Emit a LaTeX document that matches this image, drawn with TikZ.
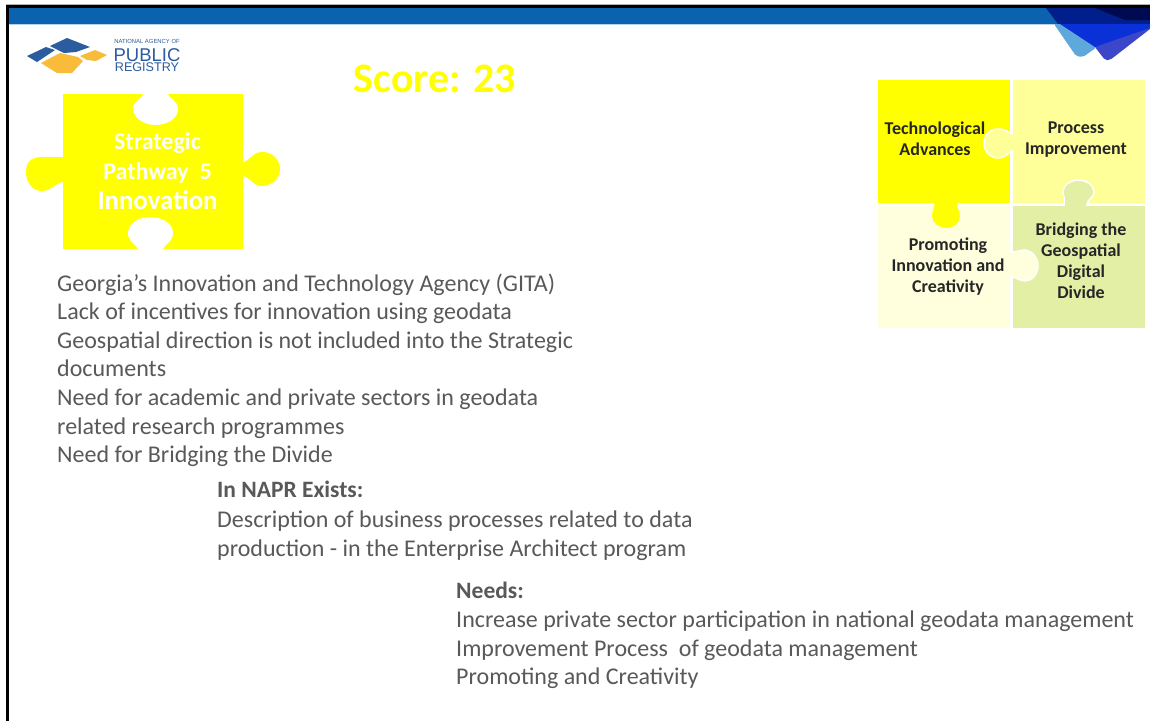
\documentclass[tikz,border=0pt]{standalone}
\usepackage{fontspec}
\setmainfont{Carlito}
\newfontfamily\logofont{Liberation Sans}
\definecolor{bandblue}{HTML}{0B62AE}
\definecolor{puz}{HTML}{FFFF00}
\definecolor{pb}{HTML}{FFFF99}
\definecolor{pc}{HTML}{FFFFDD}
\definecolor{pd}{HTML}{E4EFA6}
\definecolor{bodytxt}{HTML}{595959}
\definecolor{darktxt}{HTML}{262626}
\definecolor{logoblue}{HTML}{2B5C9E}
\definecolor{logogold}{HTML}{F8BC3A}
\definecolor{cornerdark}{HTML}{001E8C}
\definecolor{cornerblack}{HTML}{000A50}
\definecolor{cornerroyal}{HTML}{0A30D8}
\definecolor{cornerlight}{HTML}{5FA8DC}
\definecolor{cornermid}{HTML}{3C46C8}
\tikzset{
 bodytext/.style={anchor=north west,inner sep=0pt,align=left,text=bodytxt,font=\fontsize{24}{28.55}\selectfont},
 headtext/.style={anchor=north west,inner sep=0pt,text=bodytxt,font=\bfseries\fontsize{23.5}{28}\selectfont},
 puztext/.style={inner sep=0pt,align=center,text=darktxt,font=\bfseries\fontsize{18}{21}\selectfont},
 tabline/.style={white,line width=1.5pt},
}
\begin{document}
\begin{tikzpicture}[x=1pt,y=-1pt]
\useasboundingbox (0,0) rectangle (1150,721);
\fill[white] (0,0) rectangle (1150,721);
% header band
\fill[bandblue] (8,8) rectangle (1150,24);
\fill[white!70!bandblue] (8,24) rectangle (1150,25);
% corner shapes
\fill[cornerdark] (1046,8) -- (1150,8) -- (1150,24) -- (1058,24) -- cycle;
\fill[cornerblack] (1095,8) -- (1150,8) -- (1150,20) -- (1125,20) -- cycle;
\fill[cornerlight,rounded corners=2pt] (1054,24) -- (1064,24) -- (1097,47) -- (1083,57) -- (1076,56) -- cycle;
\fill[cornerroyal] (1060,24) -- (1150,24) -- (1150,29) -- (1110,46) -- (1095,47) -- cycle;
\fill[cornermid,rounded corners=2pt] (1095,47) -- (1150,28) -- (1150,29) -- (1110,60) -- (1105,60) -- cycle;
% frame
\fill[black!30] (6,4) rectangle (1150,5);
\fill[black] (6,5) rectangle (1150,8);
\fill[black] (6,5) rectangle (9,721);
% logo
\fill[logoblue] (27,56) -- (46,47) -- (55,50) -- (37,62) -- cycle;
\fill[logoblue] (50,46) -- (67,38) -- (90,47) -- (76,52) -- (64,53) -- cycle;
\fill[logogold] (41,63) -- (60,53) -- (78,57) -- (83,61) -- (72,73) -- (57,73) -- cycle;
\fill[logogold] (80,56) -- (95,50) -- (107,55) -- (96,61) -- (87,60) -- cycle;
\node[inner sep=0pt,align=center,text=logoblue,font=\logofont\fontsize{10}{10}\selectfont] (logotext) at (147,55.5) {\lineskiplimit -30pt\relax{\fontsize{5.9}{4}\selectfont NATIONAL AGENCY OF}\\[4.5pt]{\fontsize{18.5}{18}\selectfont PUBLIC}\\{\fontsize{12.6}{12}\selectfont REGISTRY}};
% score
\node[inner sep=0pt,text=puz,font=\bfseries\fontsize{42}{42}\selectfont] (score) at (435,79) {Score: 23};
% main puzzle piece
\fill[puz] (63,94) rectangle (243,249);
\fill[puz] (64,157) .. controls (55,157) and (52,157) .. (42,157) .. controls (30,157) and (26,163) .. (26,172) .. controls (26,182) and (32,191) .. (42,191) .. controls (52,191) and (55,182) .. (64,182) -- cycle;
\fill[puz] (242,162) .. controls (250,162) and (252,152) .. (262,152) .. controls (273,152) and (280,160) .. (280,169) .. controls (280,178) and (272,186) .. (262,186) .. controls (252,186) and (250,176) .. (242,176) -- cycle;
\fill[white] (143,94) .. controls (143,98) and (133,100) .. (133,109) .. controls (133,118) and (145,125) .. (155,125) .. controls (168,125) and (178,118) .. (178,109) .. controls (178,100) and (168,98) .. (168,94) -- cycle;
\fill[white] (138,249) .. controls (138,246) and (128,242) .. (128,233) .. controls (128,224) and (138,217) .. (150,217) .. controls (163,217) and (173,224) .. (173,233) .. controls (173,242) and (163,246) .. (163,249) -- cycle;
\node[inner sep=0pt,align=center,text=white,font=\bfseries\fontsize{24}{30}\selectfont] (title) at (157.5,171) {Strategic\\Pathway~~5\\{\fontsize{26.8}{30}\selectfont Innovation}};
% right puzzle
\fill[puz] (878,80) rectangle (1010,203);
\fill[pb] (1013,80) rectangle (1145,203);
\fill[pc] (878,206) rectangle (1010,328);
\fill[pd] (1013,206) rectangle (1145,328);
% tabs
\draw[tabline,fill=pb] (1012,134) .. controls (1005,130) and (1003,129) .. (997,129) .. controls (989,129) and (984,136) .. (984,143) .. controls (984,151) and (990,158) .. (998,158) .. controls (1003,158) and (1006,155) .. (1012,151);
\draw[tabline,fill=pd] (1064,204) .. controls (1066,198) and (1063,197) .. (1063,192) .. controls (1063,185) and (1071,180) .. (1078,180) .. controls (1086,180) and (1094,185) .. (1094,192) .. controls (1094,197) and (1088,199) .. (1087,204);
\fill[puz] (934,203) .. controls (936,207) and (932,209) .. (932,216) .. controls (932,223) and (940,228) .. (946,228) .. controls (954,228) and (960,223) .. (960,216) .. controls (960,209) and (955,207) .. (957,203) -- cycle;
\draw[tabline,fill=pc] (1012,252) .. controls (1018,252) and (1020,250) .. (1024,250) .. controls (1032,250) and (1038,258) .. (1038,266) .. controls (1038,274) and (1032,281) .. (1025,281) .. controls (1019,281) and (1017,277) .. (1012,277);
% dividers
\fill[white] (1010,80) rectangle (1013,134);
\fill[white] (1010,151) rectangle (1013,252);
\fill[white] (1010,277) rectangle (1013,328);
\fill[white] (878,203) rectangle (934,206);
\fill[white] (957,203) rectangle (1064,206);
\fill[white] (1087,203) rectangle (1145,206);
\fill[pb] (1009,135) rectangle (1014,150);
\fill[pd] (1065,199) rectangle (1086,207);
\fill[pc] (1009,253) rectangle (1015,276);
\node[puztext] (tech) at (935,139) {Technological\\Advances};
\node[puztext] (proc) at (1076,140) {Process\\Improvement};
\node[puztext] (prom) at (948,267) {Promoting\\Innovation and\\Creativity};
\node[puztext] (brid) at (1081,261) {Bridging the\\Geospatial\\Digital\\Divide};
% body texts
\node[bodytext] (gita) at (57,273.5) {Georgia’s Innovation and Technology Agency (GITA)\\Lack of incentives for innovation using geodata\\Geospatial direction is not included into the Strategic\\documents\\Need for academic and private sectors in geodata\\related research programmes\\Need for Bridging the Divide};
\node[headtext] (exists) at (217,481) {In NAPR Exists:};
\node[bodytext] (exbody) at (217,511) {Description of business processes related to data\\production - in the Enterprise Architect program};
\node[headtext] (needs) at (456,582) {Needs:};
\node[bodytext] (nbody) at (456,611) {Increase private sector participation in national geodata management\\Improvement Process~ of geodata management\\Promoting and Creativity};
\end{tikzpicture}
\end{document}
